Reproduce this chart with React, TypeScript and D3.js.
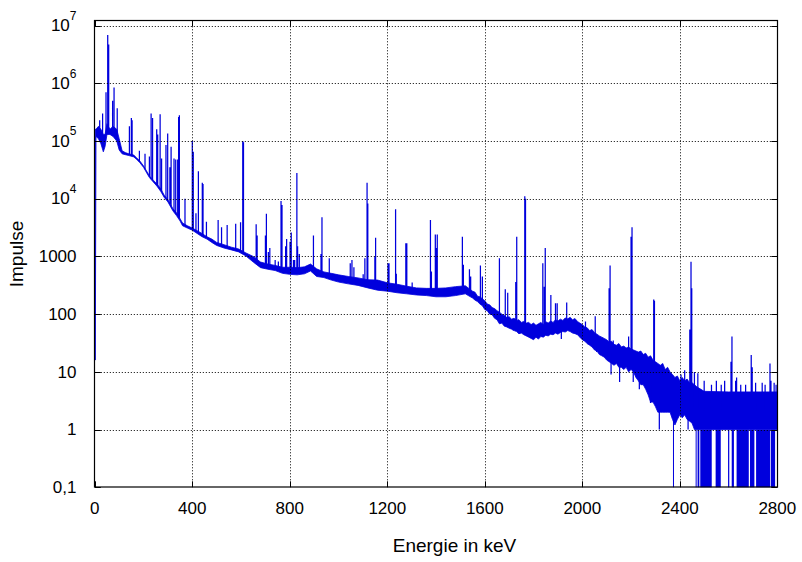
import React from 'react';
import * as d3 from 'd3';

// ---- axis ticks ----
const xTicks = [0, 400, 800, 1200, 1600, 2000, 2400, 2800];
const yTicks = [0.1, 1, 10, 100, 1000, 1e4, 1e5, 1e6, 1e7];
const yTickBase = ['0,1', '1', '10', '100', '1000', '10', '10', '10', '10'];
const yTickExp = ['', '', '', '', '', '4', '5', '6', '7'];

// ---- spectrum continuum envelope (energy keV, low / high counts) ----
const envE = [
  2, 5, 15, 25, 35, 42, 50, 62, 75, 90, 100, 112, 125, 140, 160, 172, 185, 200, 215, 225, 240, 255, 270, 285, 300, 320, 335, 350, 360, 380, 400, 420, 440, 460, 480, 500, 530, 560, 590, 620, 650, 680, 710, 740, 770, 800, 830, 860, 885, 910, 940, 970, 1000, 1040, 1080, 1120, 1160, 1200, 1240, 1280, 1320, 1360, 1400, 1440, 1480, 1520,
  1550, 1560, 1570, 1580, 1590, 1600, 1610, 1620, 1630, 1640, 1650, 1660, 1670, 1680, 1690, 1700, 1710, 1720, 1730, 1740, 1750, 1760, 1770, 1780, 1790, 1800, 1810, 1820, 1830, 1840, 1850, 1860, 1870, 1880, 1890, 1900, 1910, 1920, 1930, 1940, 1950, 1960, 1970, 1980, 1990, 2000, 2010, 2020, 2030, 2040, 2050, 2060, 2070, 2080, 2090, 2100, 2110, 2120, 2130, 2140, 2150, 2160, 2170, 2180, 2190, 2200, 2210, 2220, 2230, 2240, 2250, 2260, 2270, 2280, 2290, 2300, 2310, 2320, 2330, 2340, 2350, 2360, 2370, 2380, 2390, 2400, 2410, 2420, 2430, 2440, 2450, 2460, 2470,
  2500, 2600, 2700, 2800,
];
const envLo = [
  16, 1.2e5, 1.1e5, 9e4, 6.5e4, 8e4, 1.3e5, 1.3e5, 1.2e5, 1e5, 7e4, 6e4, 5.8e4, 5.6e4, 5.3e4, 4.8e4, 4.2e4, 3.5e4, 2.7e4, 2.3e4, 1.95e4, 1.65e4, 1.35e4, 1.05e4, 8.8e3, 6.2e3, 5.1e3, 4.1e3, 3.4e3, 3.1e3, 2.85e3, 2.5e3, 2.2e3, 2e3, 1.75e3, 1.55e3, 1.4e3, 1.3e3, 1.2e3, 1.02e3, 800, 640, 600, 570, 510, 490, 480, 500, 560, 450, 430, 390, 360, 335, 315, 285, 260, 250, 235, 225, 215, 210, 200, 200, 210, 225,
  190, 175, 165, 150, 140, 120, 115, 100, 98, 85, 80, 68, 70, 62, 60, 57, 55, 52, 50, 46, 47, 44, 42, 40, 38, 36, 40, 37, 41, 40, 43, 42, 45, 44, 47, 45, 48, 50, 49, 52, 50, 47, 46, 44, 40, 36, 34, 31, 29, 27, 24, 23, 20, 19, 18, 16, 15, 14, 13, 14, 12, 12, 11, 12, 10, 11, 10, 8, 7, 6, 6, 5, 4, 3, 3, 2.5, 2, 2, 2, 2, 2, 2, 1.5, 1.2, 1.5, 1.8, 1.6, 1.8, 1.5, 1.4, 1.3, 1, 1,
  1, 1, 1, 1,
];
const envHi = [
  1.6e5, 1.6e5, 1.8e5, 1.6e5, 1.3e5, 1.3e5, 2e5, 1.6e5, 1.8e5, 1.6e5, 1.1e5, 6.8e4, 6.3e4, 6e4, 5.7e4, 5.1e4, 4.5e4, 3.7e4, 2.9e4, 2.45e4, 2.1e4, 1.8e4, 1.5e4, 1.15e4, 9.6e3, 6.8e3, 5.7e3, 4.5e3, 3.8e3, 3.4e3, 3.1e3, 2.8e3, 2.5e3, 2.2e3, 2e3, 1.75e3, 1.6e3, 1.45e3, 1.35e3, 1.15e3, 1000, 800, 740, 700, 650, 650, 640, 660, 740, 610, 540, 510, 480, 450, 425, 395, 390, 350, 330, 305, 285, 280, 280, 285, 300, 310,
  250, 240, 205, 200, 185, 170, 150, 145, 130, 125, 115, 108, 100, 95, 88, 90, 82, 85, 78, 80, 72, 75, 70, 72, 66, 70, 64, 68, 72, 66, 74, 70, 76, 72, 80, 76, 82, 78, 86, 83, 88, 80, 84, 75, 70, 66, 60, 58, 52, 54, 48, 45, 42, 40, 38, 36, 33, 34, 30, 29, 31, 27, 28, 26, 27, 25, 24, 23, 22, 23, 20, 21, 18, 19, 16, 15, 14, 13, 14, 11, 12, 10, 9, 8, 8.5, 7, 8, 7, 7.5, 6.5, 6.5, 6, 5.5,
  4.6, 4.5, 4.5, 4.5,
];

// ---- peaks and dips (energy keV, counts reached) ----
const peakE = [20, 32, 46, 53, 57, 73, 79, 92, 142, 150, 153, 183, 206, 224, 231, 237, 254, 258, 268, 274, 292, 299, 308, 313, 325, 332, 340, 344, 347, 370, 400, 404, 415, 425, 441, 444, 458, 506, 520, 543, 578, 598, 607, 610, 662, 666, 700, 704, 712, 718, 740, 753, 764, 768, 783, 787, 801, 806, 815, 820, 829, 832, 839, 897, 928, 932, 962, 1048, 1055, 1063, 1101, 1108, 1117, 1120, 1149, 1152, 1203, 1207, 1234, 1237, 1276, 1280, 1302, 1377, 1381, 1397, 1401, 1405, 1508, 1512, 1537, 1542, 1582, 1590, 1660, 1684, 1694, 1717, 1727, 1731, 1741, 1764, 1767, 1798, 1838, 1844, 1848, 1871, 1890, 1897, 1914, 1936, 2013, 2024, 2053, 2059, 2106, 2110, 2114, 2118, 2127, 2153, 2166, 2186, 2190, 2200, 2204, 2209, 2231, 2234, 2268, 2280, 2293, 2296, 2316, 2405, 2420, 2434, 2441, 2446, 2449, 2460, 2474, 2500, 2530, 2550, 2570, 2584, 2610, 2614, 2629, 2633, 2650, 2670, 2693, 2697, 2711, 2738, 2750, 2770, 2774, 2787, 2795];
const peakV = [2.3e5, 3e5, 7e5, 6.9e6, 4.7e6, 5e5, 8.5e5, 3.7e5, 1.8e5, 2.5e5, 2.3e5, 6.8e4, 6e4, 5.4e4, 3e5, 2.5e5, 1.6e5, 1.3e5, 2.9e5, 5e4, 8.5e4, 1.35e5, 3.5e4, 8e4, 5e4, 4.8e4, 4.8e4, 2.6e5, 2.8e5, 1e4, 1e5, 6.5e4, 5.6e3, 3e4, 1.9e4, 1.8e4, 4e3, 4.3e3, 3.2e3, 3.5e3, 3.7e3, 3.9e3, 1e5, 9.5e4, 3.6e3, 2.3e3, 2.3e3, 5.5e3, 1.2e3, 1.4e3, 870, 820, 9.1e3, 7.8e3, 1.5e3, 2e3, 1.8e3, 2.6e3, 870, 870, 2.8e4, 1.5e3, 1.1e3, 2.3e3, 1.1e3, 4.8e3, 930, 760, 870, 650, 490, 930, 1.9e4, 8.3e3, 1e3, 2.1e3, 760, 760, 6.6e3, 500, 1.7e3, 1.7e3, 355, 4.3e3, 550, 2.4e3, 1.4e3, 2.4e3, 2.2e3, 720, 600, 450, 700, 450, 930, 270, 235, 52, 360, 2.2e3, 46, 1.1e4, 1e4, 37, 760, 300, 1.4e3, 215, 155, 155, 37, 160, 75, 30, 92, 22, 16, 280, 700, 9, 35, 6.7, 14, 11.5, 41, 2.2e3, 3.2e3, 6.7, 7.2, 5, 4.9, 2.9, 180, 170, 1, 9, 10.7, 1, 54, 810, 280, 10, 9.5, 7, 6, 7, 6, 7, 15, 41, 7, 8, 6, 6, 19.6, 12, 6.5, 6.5, 6, 14, 7, 6.5, 6];

// ---- stretches where the counts repeatedly fall to zero ----
const dropFrom = [2372, 2465, 2473, 2484, 2547, 2598, 2613, 2633, 2688, 2713, 2773];
const dropTo = [2375, 2469, 2480, 2531, 2568, 2603, 2622, 2683, 2706, 2770, 2791];

const W = 802;
const H = 562;
const L = 94.8, R = 777.3, T = 20.3, B = 487.3;
const BLUE = '#0000dd';
const FONT = '"Liberation Sans", Arial, Helvetica, sans-serif';

export default function App() {
  const x = d3.scaleLinear().domain([0, 2800]).range([L, R]);
  const y = d3.scaleLog().domain([0.1, Math.pow(10, 7.092)]).range([B, T]);

  const env = envE.map((e, i) => ({ e, lo: envLo[i], hi: envHi[i] }));
  const area = d3
    .area<{ e: number; lo: number; hi: number }>()
    .x((d) => x(d.e))
    .y0((d) => y(d.lo))
    .y1((d) => y(d.hi));

  const logLo = d3.scaleLinear().domain(envE).range(envLo.map(Math.log10)).clamp(true);
  const logHi = d3.scaleLinear().domain(envE).range(envHi.map(Math.log10)).clamp(true);
  const midAt = (e: number) => Math.pow(10, (logLo(e) + logHi(e)) / 2);
  const loAt = (e: number) => Math.pow(10, logLo(e));

  const line = d3.line<[number, number]>().x((d) => x(d[0])).y((d) => y(d[1]));
  const spikes = peakE.map((e, i) => line([[e, midAt(e)], [e, peakV[i]]])).join(' ');

  const gridX = xTicks.filter((v) => v > 0 && v < 2800);
  const gridY = yTicks.filter((v) => v > 0.1);

  return (
    <svg width={W} height={H} style={{ position: 'absolute', left: 0, top: 0, background: '#fff' }}>
      <defs>
        <clipPath id="plotClip">
          <rect x={L} y={T} width={R - L} height={B - T} />
        </clipPath>
      </defs>
      <rect x={0} y={0} width={W} height={H} fill="#fff" />

      {/* data */}
      <g clipPath="url(#plotClip)">
        <path d={area(env) || ''} fill={BLUE} stroke={BLUE} strokeWidth={0.8} />
        <path d={spikes} fill="none" stroke={BLUE} strokeWidth={1.25} />
        {dropFrom.map((f, i) => {
          const x0 = x(f);
          const w = Math.max(1, x(dropTo[i]) - x0);
          const yTop = y(loAt(f));
          return <rect key={i} x={x0} y={yTop} width={w} height={B - yTop + 2} fill={BLUE} />;
        })}
      </g>

      {/* grid (front) */}
      <g stroke="#000" strokeWidth={1} strokeDasharray="1,2" fill="none">
        {gridX.map((v) => (
          <line key={'gx' + v} x1={Math.round(x(v)) + 0.5} x2={Math.round(x(v)) + 0.5} y1={T} y2={B} />
        ))}
        {gridY.map((v) => (
          <line key={'gy' + v} x1={L} x2={R} y1={Math.round(y(v)) + 0.5} y2={Math.round(y(v)) + 0.5} />
        ))}
      </g>

      {/* ticks */}
      <g stroke="#000" strokeWidth={1}>
        {xTicks.map((v) => {
          const px = Math.round(x(v)) + 0.5;
          return (
            <g key={'tx' + v}>
              <line x1={px} x2={px} y1={B} y2={B - 6} />
              <line x1={px} x2={px} y1={T} y2={T + 6} />
            </g>
          );
        })}
        {yTicks.map((v) => {
          const py = Math.round(y(v)) + 0.5;
          return (
            <g key={'ty' + v}>
              <line x1={L} x2={L + 6} y1={py} y2={py} />
              <line x1={R} x2={R - 6} y1={py} y2={py} />
            </g>
          );
        })}
      </g>

      {/* frame */}
      <rect
        x={Math.round(L) - 0.5}
        y={Math.round(T) + 0.5}
        width={Math.round(R) - Math.round(L) + 1}
        height={Math.round(B) - Math.round(T) - 0.5}
        fill="none"
        stroke="#000"
        strokeWidth={1.2}
      />

      {/* tick labels */}
      <g fontFamily={FONT} fontSize={17} fill="#000">
        {yTicks.map((v, i) => (
          <text key={'ly' + v} x={76.5} y={y(v) + 5.7} textAnchor="end">
            <tspan>{yTickBase[i]}</tspan>
            {yTickExp[i] ? (
              <tspan dy={-11.5} fontSize={12}>
                {yTickExp[i]}
              </tspan>
            ) : null}
          </text>
        ))}
        {xTicks.map((v) => (
          <text key={'lx' + v} x={x(v)} y={513.5} textAnchor="middle">
            {v}
          </text>
        ))}
      </g>

      {/* axis titles */}
      <text x={454.5} y={552.3} textAnchor="middle" fontFamily={FONT} fontSize={19} fill="#000">
        Energie in keV
      </text>
      <text
        transform="translate(23.3,254) rotate(-90)"
        textAnchor="middle"
        fontFamily={FONT}
        fontSize={19}
        fill="#000"
      >
        Impulse
      </text>
    </svg>
  );
}
